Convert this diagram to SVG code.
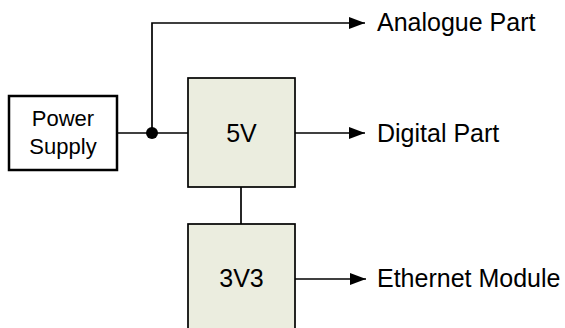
<svg xmlns="http://www.w3.org/2000/svg" width="565" height="328" viewBox="0 0 565 328">
<style>
  .lbl{font-family:"Liberation Sans",Arial,sans-serif;fill:#000;}
  .wire{stroke:#000;stroke-width:1.7;fill:none;}
  .reg{fill:#EBEDDF;stroke:#000;stroke-width:1.7;}
</style>
<defs>
  <marker id="arr" viewBox="0 0 16 12" refX="16" refY="6" markerWidth="16" markerHeight="12" markerUnits="userSpaceOnUse" orient="auto">
    <path d="M0,0 L16,6 L0,12 Z" fill="#000"/>
  </marker>
</defs>
<rect width="565" height="328" fill="#fff"/>
<g id="connectors">
  <line class="wire" x1="117" y1="133" x2="188" y2="133"/>
  <polyline class="wire" points="152,133 152,23 365,23" marker-end="url(#arr)"/>
  <line class="wire" x1="295" y1="133" x2="365" y2="133" marker-end="url(#arr)"/>
  <line class="wire" x1="241" y1="187" x2="241" y2="224"/>
  <line class="wire" x1="295" y1="279" x2="366" y2="279" marker-end="url(#arr)"/>
  <circle cx="152" cy="133" r="6" fill="#000"/>
</g>
<g id="power-supply">
  <rect x="9" y="96" width="108" height="74" fill="#fff" stroke="#000" stroke-width="2.5"/>
  <text class="lbl" x="63" y="126" font-size="22" text-anchor="middle">Power</text>
  <text class="lbl" x="63" y="154" font-size="22" text-anchor="middle">Supply</text>
</g>
<g id="reg-5v">
  <rect class="reg" x="188" y="78" width="107" height="109"/>
  <text class="lbl" x="241.5" y="142" font-size="25" text-anchor="middle">5V</text>
</g>
<g id="reg-3v3">
  <rect class="reg" x="188" y="224" width="107" height="112"/>
  <text class="lbl" x="241.5" y="287" font-size="25" text-anchor="middle">3V3</text>
</g>
<g id="analogue-part">
  <text class="lbl" x="377" y="31" font-size="25">Analogue Part</text>
</g>
<g id="digital-part">
  <text class="lbl" x="377" y="142" font-size="25">Digital Part</text>
</g>
<g id="ethernet-module">
  <text class="lbl" x="377" y="287" font-size="25">Ethernet Module</text>
</g>
</svg>
